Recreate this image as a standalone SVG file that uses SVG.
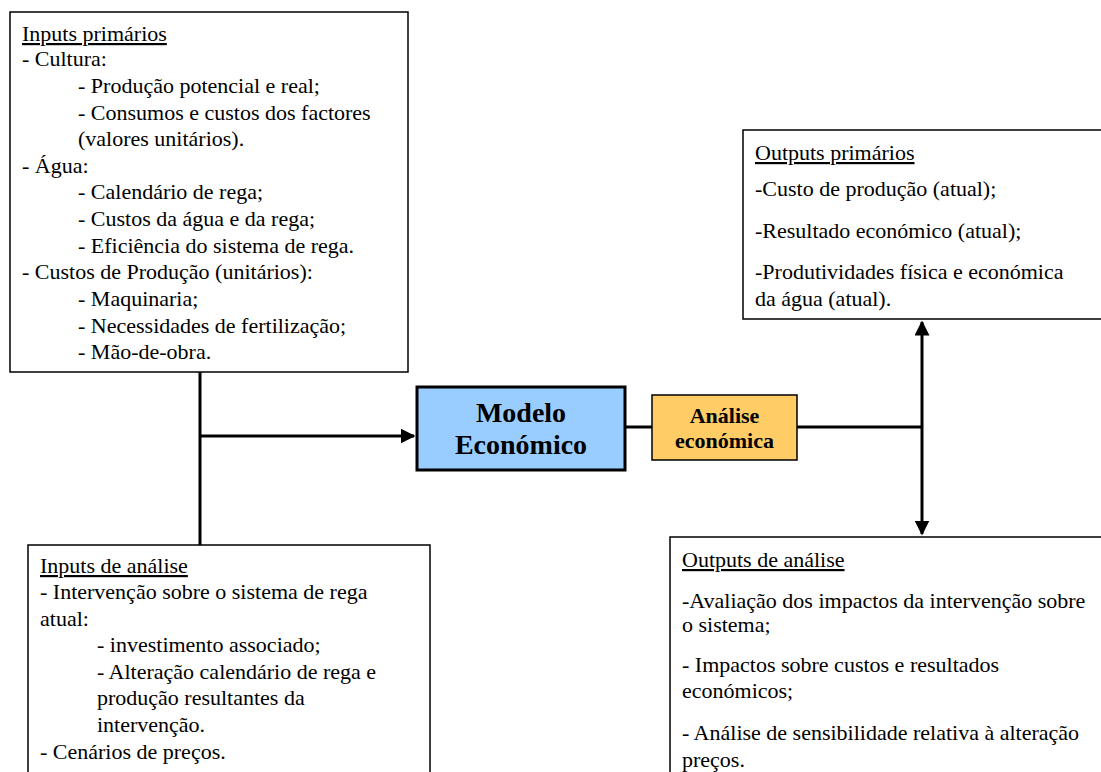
<svg xmlns="http://www.w3.org/2000/svg" width="1101" height="772" viewBox="0 0 1101 772">
<defs>
<style>
.t{font-size:22px;fill:#000}
.b{font-weight:bold;fill:#000;text-anchor:middle}
.box{fill:#fff;stroke:#000;stroke-width:1.5}
.ln{stroke:#000;stroke-width:3;fill:none}
</style>
<marker id="ah" viewBox="0 0 10 10" refX="9" refY="5" markerWidth="5" markerHeight="5" orient="auto-start-reverse" markerUnits="strokeWidth">
<path d="M0,0 L10,5 L0,10 z" fill="#000"/>
</marker>
</defs>
<rect width="1101" height="772" fill="#fff"/>
<g id="connectors">
<line class="ln" x1="200" y1="372" x2="200" y2="545"/>
<line class="ln" x1="200" y1="436" x2="414" y2="436" marker-end="url(#ah)"/>
<line class="ln" x1="625" y1="427" x2="652" y2="427"/>
<line class="ln" x1="797" y1="427" x2="922" y2="427"/>
<line class="ln" x1="922" y1="322" x2="922" y2="534" marker-start="url(#ah)" marker-end="url(#ah)"/>
</g>
<g id="inputs-primarios" font-family="Liberation Serif, Times New Roman, serif">
<rect class="box" x="10" y="12" width="398" height="360"/>
<text class="t" x="22" y="41" text-decoration="underline">Inputs primários</text>
<text class="t" x="22" y="66">- Cultura:</text>
<text class="t" x="78" y="93">- Produção potencial e real;</text>
<text class="t" x="78" y="120">- Consumos e custos dos factores</text>
<text class="t" x="78" y="146">(valores unitários).</text>
<text class="t" x="22" y="173">- Água:</text>
<text class="t" x="78" y="199">- Calendário de rega;</text>
<text class="t" x="78" y="226">- Custos da água e da rega;</text>
<text class="t" x="78" y="253">- Eficiência do sistema de rega.</text>
<text class="t" x="22" y="279">- Custos de Produção (unitários):</text>
<text class="t" x="78" y="306">- Maquinaria;</text>
<text class="t" x="78" y="333">- Necessidades de fertilização;</text>
<text class="t" x="78" y="359">- Mão-de-obra.</text>
</g>
<g id="inputs-analise" font-family="Liberation Serif, Times New Roman, serif">
<rect class="box" x="28" y="545" width="402" height="240"/>
<text class="t" x="40" y="573" text-decoration="underline">Inputs de análise</text>
<text class="t" x="40" y="599">- Intervenção sobre o sistema de rega</text>
<text class="t" x="40" y="626">atual:</text>
<text class="t" x="97" y="652">- investimento associado;</text>
<text class="t" x="97" y="679">- Alteração calendário de rega e</text>
<text class="t" x="97" y="705">produção resultantes da</text>
<text class="t" x="97" y="732">intervenção.</text>
<text class="t" x="40" y="759">- Cenários de preços.</text>
</g>
<g id="modelo" font-family="Liberation Serif, Times New Roman, serif">
<rect x="417" y="387" width="208" height="83" fill="#99CCFF" stroke="#000" stroke-width="3"/>
<text class="b" x="521" y="422" font-size="28">Modelo</text>
<text class="b" x="521" y="454" font-size="28">Económico</text>
</g>
<g id="analise" font-family="Liberation Serif, Times New Roman, serif">
<rect x="652" y="395" width="145" height="65" fill="#FFCC66" stroke="#000" stroke-width="1.5"/>
<text class="b" x="724.5" y="423" font-size="22">Análise</text>
<text class="b" x="724.5" y="448" font-size="22">económica</text>
</g>
<g id="outputs-primarios" font-family="Liberation Serif, Times New Roman, serif">
<rect class="box" x="743" y="130" width="370" height="189"/>
<text class="t" x="755" y="160" text-decoration="underline">Outputs primários</text>
<text class="t" x="755" y="196">-Custo de produção (atual);</text>
<text class="t" x="755" y="238">-Resultado económico (atual);</text>
<text class="t" x="755" y="279">-Produtividades física e económica</text>
<text class="t" x="755" y="306">da água (atual).</text>
</g>
<g id="outputs-analise" font-family="Liberation Serif, Times New Roman, serif">
<rect class="box" x="670" y="537" width="440" height="250"/>
<text class="t" x="682" y="567" text-decoration="underline">Outputs de análise</text>
<text class="t" x="682" y="608">-Avaliação dos impactos da intervenção sobre</text>
<text class="t" x="682" y="632">o sistema;</text>
<text class="t" x="682" y="672">- Impactos sobre custos e resultados</text>
<text class="t" x="682" y="698">económicos;</text>
<text class="t" x="682" y="740">- Análise de sensibilidade relativa à alteração</text>
<text class="t" x="682" y="767">preços.</text>
</g>
</svg>
